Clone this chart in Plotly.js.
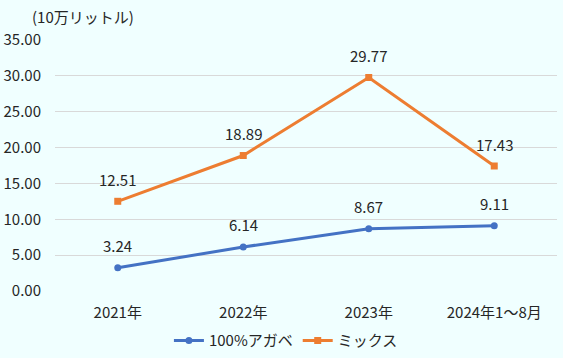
<!DOCTYPE html>
<html><head><meta charset="utf-8">
<script src="https://cdn.plot.ly/plotly-3.0.1.min.js"></script>
<style>html,body{margin:0;padding:0;background:#F0FFFF;}#c{width:563px;height:358px;}</style>
</head><body><div id="c"></div>
<script>
const categories = ["2021年", "2022年", "2023年", "2024年1～8月"];
const agave = [3.24, 6.14, 8.67, 9.11];
const mix = [12.51, 18.89, 29.77, 17.43];
const yTicks = [0, 5, 10, 15, 20, 25, 30, 35];
const yTickLabels = yTicks.map(v => v.toFixed(2));
const FONT = '"Noto Sans CJK JP", "Noto Sans", sans-serif';
const TXT = "#262626";

const traces = [
  {x: categories, y: agave, name: "100%アガベ", type: "scatter", mode: "lines+markers",
   line: {color: "#4472C4", width: 3}, marker: {color: "#4472C4", size: 7, symbol: "circle"}},
  {x: categories, y: mix, name: "ミックス", type: "scatter", mode: "lines+markers",
   line: {color: "#ED7D31", width: 3}, marker: {color: "#ED7D31", size: 7, symbol: "square"}}
];
const annotations = [];
[agave, mix].forEach(arr => arr.forEach((v, i) => annotations.push({
  x: categories[i], y: v, text: v.toFixed(2), showarrow: false, yshift: 22,
  font: {size: 15, color: TXT, family: FONT}
})));
annotations.push({xref: "paper", yref: "paper", x: -0.05, y: 1.045, xanchor: "left", yanchor: "bottom",
  text: "(10万リットル)", showarrow: false, font: {size: 15, color: TXT, family: FONT}});

const layout = {
  width: 563, height: 358,
  margin: {l: 55, r: 6, t: 40, b: 67},
  paper_bgcolor: "#F0FFFF", plot_bgcolor: "#F0FFFF",
  font: {family: FONT, size: 15, color: TXT},
  showlegend: true,
  legend: {orientation: "h", x: 0.46, xanchor: "center", yref: "container", y: 0.048, yanchor: "middle",
    font: {size: 15, color: TXT}, bgcolor: "rgba(0,0,0,0)", itemwidth: 30},
  xaxis: {type: "category", range: [-0.5, 3.5], showgrid: false, zeroline: false, showline: false,
    ticks: "", ticklabelstandoff: 11, tickfont: {size: 15, color: TXT}},
  yaxis: {range: [0, 35], tickvals: yTicks, ticktext: yTickLabels, showgrid: true, gridcolor: "#D9D9D9",
    gridwidth: 1, zeroline: false, showline: false, ticks: "", ticklabelstandoff: 13,
    tickfont: {size: 15, color: TXT}},
  annotations: annotations
};
Plotly.newPlot("c", traces, layout, {displayModeBar: false, staticPlot: true});
</script></body></html>
